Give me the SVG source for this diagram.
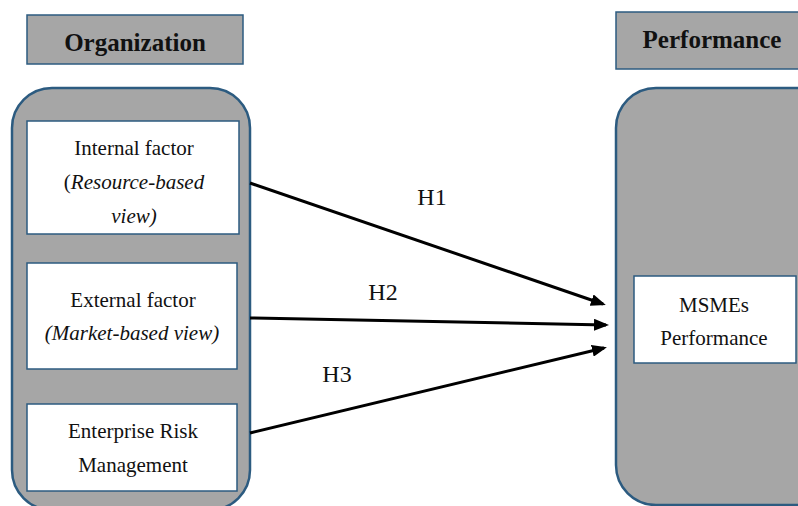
<svg xmlns="http://www.w3.org/2000/svg" width="798" height="506" viewBox="0 0 798 506">
<style>
.hdr{fill:#a6a6a6;stroke:#2c5b80;stroke-width:1.5}
.cont{fill:#a6a6a6;stroke:#2c5b80;stroke-width:2.5}
.box{fill:#ffffff;stroke:#2c5b80;stroke-width:1.5}
.t{fill:#111;text-anchor:middle;font-family:Liberation Serif,DejaVu Serif,serif}
.ht{font-size:25px;font-weight:bold}
.bt{font-size:21px}
.hl{font-size:24px}
.it{font-style:italic}
.conn line{stroke:#000;stroke-width:3}
</style>
<defs>
<marker id="ah" markerWidth="5" markerHeight="4" refX="4" refY="2" orient="auto" markerUnits="strokeWidth">
<path d="M0,0 L5,2 L0,4 Z" fill="#000"/>
</marker>
</defs>
<rect width="798" height="506" fill="#fff"/>
<g id="org-header">
<rect class="hdr" x="27" y="15" width="216" height="49"/>
<text class="t ht" x="135" y="51">Organization</text>
</g>
<g id="perf-header">
<rect class="hdr" x="616" y="12" width="194" height="57"/>
<text class="t ht" x="712" y="48">Performance</text>
</g>
<g id="org-container">
<rect class="cont" x="12" y="88" width="238" height="422" rx="40" ry="40"/>
</g>
<g id="perf-container">
<rect class="cont" x="616" y="88" width="220" height="417" rx="40" ry="40"/>
</g>
<g id="internal">
<rect class="box" x="27" y="121" width="212" height="113"/>
<text class="t bt" x="134" y="155">Internal factor</text>
<text class="t bt" x="134" y="189">(<tspan class="it">Resource-based</tspan></text>
<text class="t bt it" x="134" y="223">view)</text>
</g>
<g id="external">
<rect class="box" x="27" y="263" width="210" height="106"/>
<text class="t bt" x="133" y="307">External factor</text>
<text class="t bt it" x="132" y="340">(Market-based view)</text>
</g>
<g id="erm">
<rect class="box" x="27" y="404" width="210" height="87"/>
<text class="t bt" x="133" y="438">Enterprise Risk</text>
<text class="t bt" x="133" y="472">Management</text>
</g>
<g id="msme">
<rect class="box" x="634" y="276" width="162" height="87"/>
<text class="t bt" x="714" y="312">MSMEs</text>
<text class="t bt" x="714" y="345">Performance</text>
</g>
<g id="connectors" class="conn">
<line x1="250" y1="183" x2="603" y2="304" marker-end="url(#ah)"/>
<line x1="250" y1="318" x2="606" y2="325" marker-end="url(#ah)"/>
<line x1="250" y1="433" x2="604" y2="348" marker-end="url(#ah)"/>
<text class="t hl" x="432" y="205">H1</text>
<text class="t hl" x="383" y="300">H2</text>
<text class="t hl" x="337" y="382">H3</text>
</g>
</svg>
